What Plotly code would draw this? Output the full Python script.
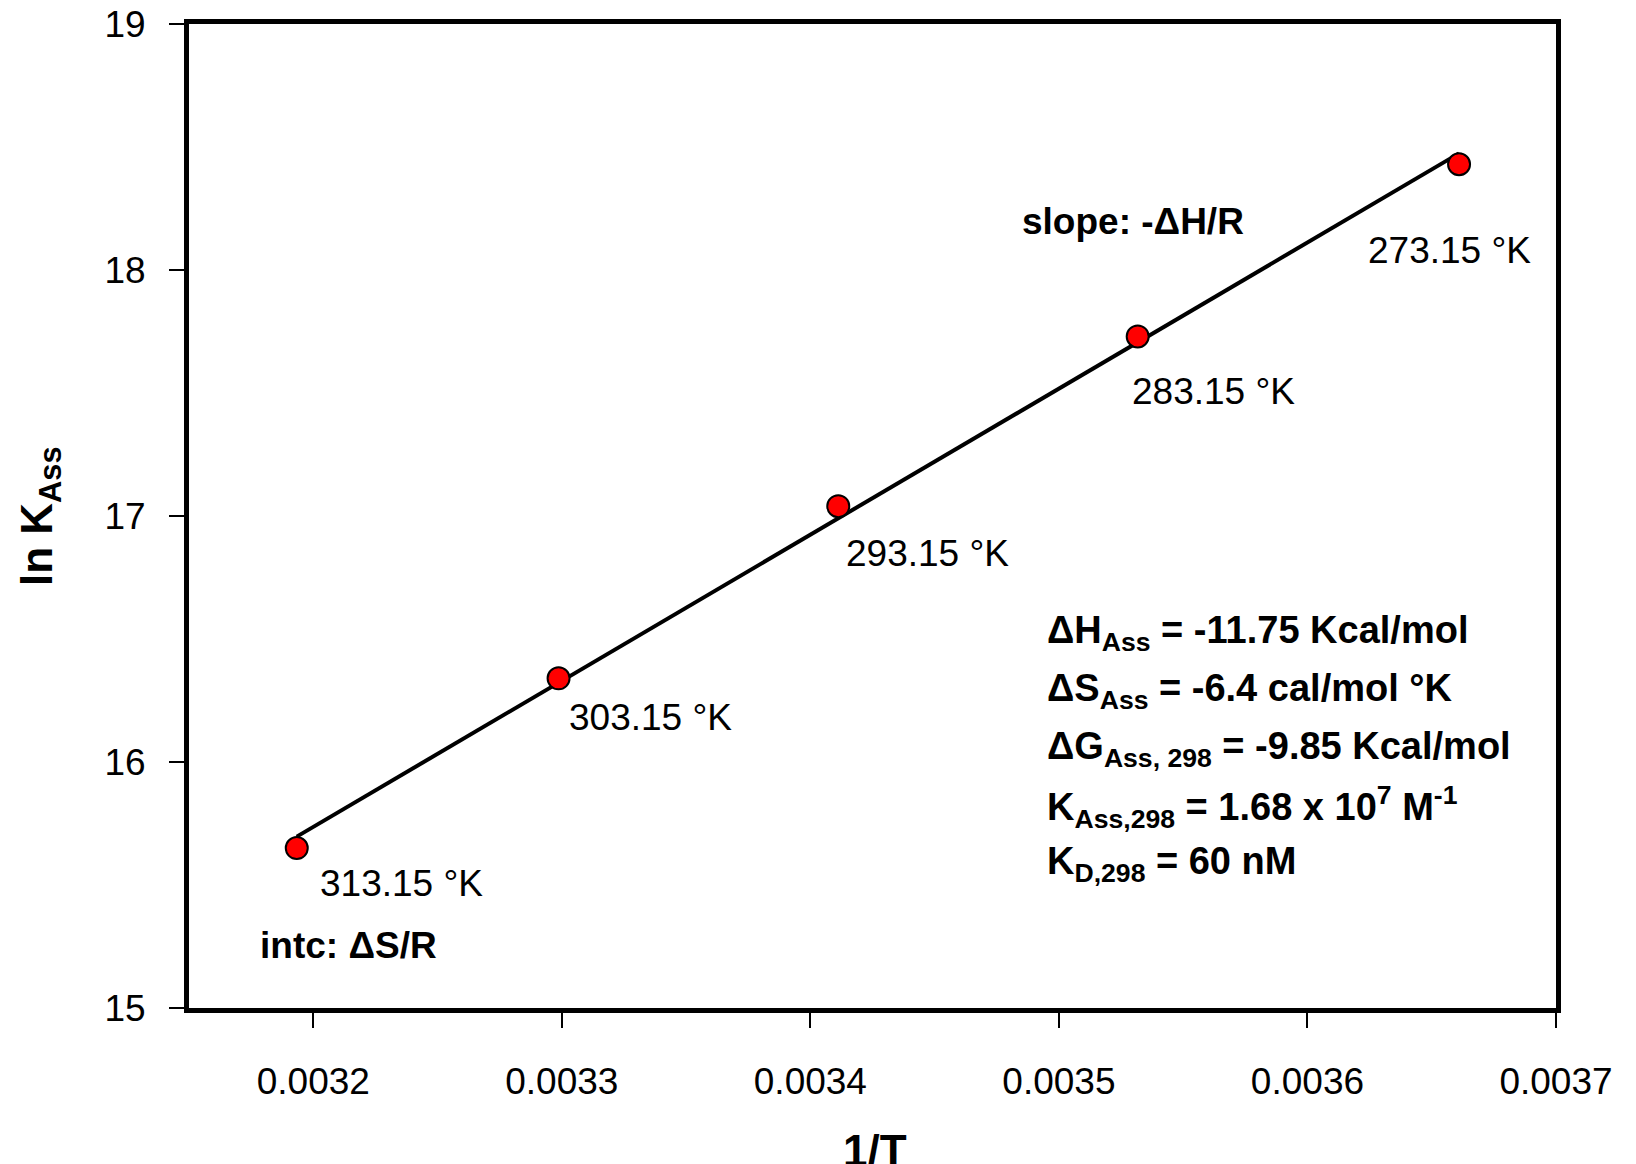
import numpy as np
import plotly.graph_objects as go

# Van 't Hoff data: temperatures (K) and measured ln K_Ass
temps_K = [313.15, 303.15, 293.15, 283.15, 273.15]
inv_T = [1.0 / t for t in temps_K]
ln_K = [15.65, 16.34, 17.04, 17.73, 18.43]
point_labels = ["313.15 °K", "303.15 °K", "293.15 °K", "283.15 °K", "273.15 °K"]
# pixel offsets of each temperature label from its point
label_dx = [21, 8, 6, -8, -93]
label_dy = [-35, -39, -47, -55, -86]

x_ticks = [0.0032, 0.0033, 0.0034, 0.0035, 0.0036, 0.0037]
x_tick_text = ["0.0032", "0.0033", "0.0034", "0.0035", "0.0036", "0.0037"]
y_ticks = [15, 16, 17, 18, 19]
y_tick_text = ["15", "16", "17", "18", "19"]

thermo_lines = [
    "ΔH<sub>Ass</sub> = -11.75 Kcal/mol",
    "ΔS<sub>Ass</sub> = -6.4 cal/mol °K",
    "ΔG<sub>Ass, 298</sub> = -9.85 Kcal/mol",
    "K<sub>Ass,298</sub> = 1.68 x 10<sup>7</sup> M<sup>-1</sup>",
    "K<sub>D,298</sub> = 60 nM",
]

FONT = "Liberation Sans, Arial, sans-serif"
W, H = 1636, 1164
L, R, T, B = 189, 80, 24, 156

# linear regression over the measured points
slope, intercept = np.polyfit(inv_T, ln_K, 1)
fit_x = np.array([min(inv_T), max(inv_T)])
fit_y = slope * fit_x + intercept

fig = go.Figure()
fig.add_trace(go.Scatter(x=fit_x, y=fit_y, mode="lines",
                         line=dict(color="black", width=4),
                         hoverinfo="skip", showlegend=False))
fig.add_trace(go.Scatter(x=inv_T, y=ln_K, mode="markers",
                         marker=dict(size=22, color="#ff0000",
                                     line=dict(color="black", width=2)),
                         showlegend=False))

annotations = []
for x, y, txt, dx, dy in zip(inv_T, ln_K, point_labels, label_dx, label_dy):
    annotations.append(dict(x=x, y=y, xref="x", yref="y", text=txt,
                            showarrow=False, xanchor="left", yanchor="middle",
                            xshift=dx, yshift=dy,
                            font=dict(family=FONT, size=37, color="black")))


def px_x(p):
    return (p - L) / (W - L - R)


def px_y(p):
    return 1 - (p - T) / (H - T - B)


annotations.append(dict(x=px_x(1020), y=px_y(221), xref="paper", yref="paper",
                        text="<b>slope: -ΔH/R</b>", showarrow=False,
                        xanchor="left", yanchor="middle",
                        font=dict(family=FONT, size=37, color="black")))
annotations.append(dict(x=px_x(258), y=px_y(945), xref="paper", yref="paper",
                        text="<b>intc: ΔS/R</b>", showarrow=False,
                        xanchor="left", yanchor="middle",
                        font=dict(family=FONT, size=37, color="black")))

row_y = [633, 691, 749, 807, 864]
for txt, yy in zip(thermo_lines, row_y):
    annotations.append(dict(x=px_x(1045), y=px_y(yy), xref="paper", yref="paper",
                            text="<b>" + txt + "</b>", showarrow=False,
                            xanchor="left", yanchor="middle",
                            font=dict(family=FONT, size=38, color="black")))

# axis titles
annotations.append(dict(x=px_x(875), y=px_y(1150), xref="paper", yref="paper",
                        text="<b>1/T</b>", showarrow=False,
                        xanchor="center", yanchor="middle",
                        font=dict(family=FONT, size=44, color="black")))
annotations.append(dict(x=px_x(40), y=px_y(516), xref="paper", yref="paper",
                        text="<b>ln K<sub>Ass</sub></b>", showarrow=False,
                        textangle=-90, xanchor="center", yanchor="middle",
                        font=dict(family=FONT, size=44, color="black")))

axis_common = dict(showline=True, linecolor="black", linewidth=5, mirror=True,
                   ticks="outside", ticklen=15, tickwidth=2, tickcolor="black",
                   showgrid=False, zeroline=False, automargin=False,
                   tickfont=dict(family=FONT, size=37, color="black"))

fig.update_layout(
    width=W, height=H,
    margin=dict(l=L, r=R, t=T, b=B, autoexpand=False),
    paper_bgcolor="white", plot_bgcolor="white",
    xaxis=dict(range=[0.00315, 0.0037], tickmode="array",
               tickvals=x_ticks, ticktext=x_tick_text,
               ticklabelstandoff=22, **axis_common),
    yaxis=dict(range=[15, 19], tickmode="array",
               tickvals=y_ticks, ticktext=y_tick_text,
               ticklabelstandoff=16, **axis_common),
    annotations=annotations,
    showlegend=False,
)

fig.write_html("out.html")
